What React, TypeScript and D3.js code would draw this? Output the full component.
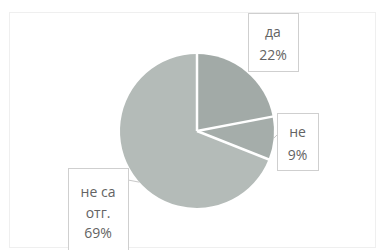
import React from "react";
import * as d3 from "d3";

const categories = ["да", "не", "не са отг."];
const values = [22, 9, 69];
const percentLabels = ["22%", "9%", "69%"];
const categoryLines = [["да"], ["не"], ["не са", "отг."]];
const sliceColors = ["#a2aaa7", "#a5adaa", "#b4bbb8"];

// label box placement
const labelBoxes = [
  { x: 248, y: 13, w: 50, h: 58, first: 24, step: 23 },
  { x: 277, y: 113, w: 41, h: 57, first: 24, step: 23 },
  { x: 68, y: 168, w: 60, h: 84, first: 29, step: 20.5 },
];

const W = 379;
const H = 250;
const cx = 197;
const cy = 131;
const r = 77;

export default function App() {
  const pie = d3
    .pie<number>()
    .sort(null)
    .value((d) => d)
    .startAngle(0)
    .endAngle(2 * Math.PI);
  const arcs = pie(values);
  const arc = d3.arc<d3.PieArcDatum<number>>().innerRadius(0).outerRadius(r);

  const edgePoint = (a: number, rr: number) => [
    cx + rr * Math.sin(a),
    cy - rr * Math.cos(a),
  ];

  const a1 = arcs[1];
  const [lx1, ly1] = edgePoint((a1.startAngle + a1.endAngle) / 2, r);
  const a2 = arcs[2];
  const [lx2, ly2] = edgePoint(a2.startAngle + (a2.endAngle - a2.startAngle) * 0.47, r);

  return (
    <svg
      width={W}
      height={H}
      style={{ position: "absolute", left: 0, top: 0, background: "#fff" }}
    >
      <rect x={9.5} y={12.5} width={366} height={235} fill="none" stroke="#efefef" />
      <g transform={`translate(${cx},${cy})`}>
        {arcs.map((a, i) => (
          <path key={categories[i]} d={arc(a) || ""} fill={sliceColors[i]} />
        ))}
        {arcs.map((a, i) => {
          const [x, y] = edgePoint(a.startAngle, r + 1);
          return (
            <line
              key={"sep" + i}
              x1={0}
              y1={0}
              x2={x - cx}
              y2={y - cy}
              stroke="#fff"
              strokeWidth={2.5}
            />
          );
        })}
      </g>
      {/* leader lines */}
      <g stroke="#c8c8c8" strokeWidth={1} fill="none">
        <line x1={lx1} y1={ly1} x2={labelBoxes[1].x} y2={labelBoxes[1].y + 22} />
        <line x1={lx2} y1={ly2} x2={labelBoxes[2].x + labelBoxes[2].w} y2={labelBoxes[2].y + 12} />
      </g>
      {labelBoxes.map((b, i) => {
        const lines = [...categoryLines[i], percentLabels[i]];
        return (
          <g key={"lb" + i}>
            <rect
              x={b.x + 0.5}
              y={b.y + 0.5}
              width={b.w}
              height={b.h}
              fill="#fff"
              stroke="#cfcfcf"
            />
            {lines.map((t, j) => (
              <text
                key={j}
                x={b.x + b.w / 2}
                y={b.y + b.first + j * b.step}
                textAnchor="middle"
                fontFamily="'Open Sans', 'DejaVu Sans', sans-serif"
                fontSize={14}
                fill="#636363"
              >
                {t}
              </text>
            ))}
          </g>
        );
      })}
    </svg>
  );
}
